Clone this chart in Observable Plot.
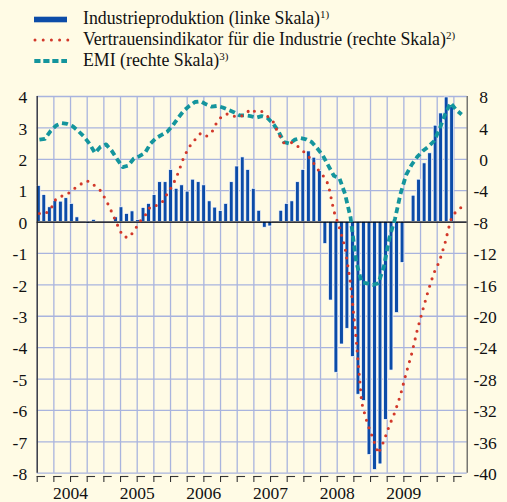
<!DOCTYPE html>
<html><head><meta charset="utf-8">
<script src="https://cdn.jsdelivr.net/npm/d3@7"></script>
<script src="https://cdn.jsdelivr.net/npm/@observablehq/plot@0.6"></script>
<style>
html,body{margin:0;padding:0;background:#fffbe5;}
#chart{width:507px;height:502px;overflow:hidden;background:#fffbe5;}
#chart svg{display:block;}
#chart svg, #chart svg text{font-family:"Liberation Serif","Times New Roman",serif !important;}
</style></head><body><div id="chart"></div>
<script>
// Monthly data, Jan 2004 onwards
const production = [1.15,0.86,0.47,0.68,0.65,0.76,0.58,0.15,0,-0.05,
  0.07,0,0,0,0.15,0.47,0.26,0.34,0.06,0.45,
  0.58,0.86,1.27,1.27,1.66,1.06,1.17,0.97,1.35,1.27,
  1.17,0.66,0.46,0.35,0.58,1.27,1.77,2.06,1.66,1.06,
  0.36,-0.18,-0.14,0,0.36,0.58,0.66,1.27,1.66,2.25,
  2.05,1.63,-0.7,-2.5,-4.8,-3.9,-3.4,-4.3,-5.5,-5.7,
  -7.42,-7.9,-7.72,-6.3,-4.73,-2.9,-1.3,0,0.84,1.35,
  1.87,2.19,3.07,3.46,3.97,3.66];
const confidence = [-6.9,-6.95,-6.4,-5.0,-4.7,-4.5,-3.8,-3.5,-2.8,-2.8,
  -3.4,-4.0,-5.2,-6.7,-8.3,-9.8,-10.0,-9.2,-8.0,-7.2,
  -6.0,-5.9,-5.6,-4.4,-3.3,-1.7,0.3,1.6,2.5,3.3,
  2.9,3.4,4.8,5.6,5.8,5.5,5.4,5.7,6.4,6.0,
  6.1,5.5,4.9,3.3,2.1,2.2,2.0,1.3,0.7,-0.1,
  -1.2,-2.0,-3.2,-6.6,-8.7,-11.2,-15.8,-22.8,-31.0,-33.6,
  -35.5,-37.5,-35.9,-33.9,-32.2,-30.0,-27.3,-24.8,-21.8,-19.2,
  -16.7,-14.5,-13.0,-10.7,-7.8,-6.6,-6.1];
const pmi = [2.5,2.6,3.6,4.3,4.6,4.5,4.2,3.6,2.9,2.0,
  0.8,1.6,1.9,1.1,0.0,-1.0,-0.8,0.1,0.4,0.8,
  2.0,2.7,3.1,3.5,4.3,5.3,6.2,6.8,7.3,7.4,
  7.0,6.7,6.8,6.6,6.3,6.0,5.6,5.6,5.5,5.3,
  5.5,5.3,4.6,3.6,2.2,2.0,2.5,2.7,2.55,2.2,
  1.4,0.5,-0.8,-2.1,-2.4,-4.4,-7.4,-13.0,-15.7,-15.8,
  -16.0,-15.8,-13.7,-10.0,-7.6,-4.4,-2.0,-0.7,0.3,1.05,
  1.6,2.3,3.8,5.7,7.2,6.3,5.7];
const years = ["2004","2005","2006","2007","2008","2009"];
const leftTicks = [4,3,2,1,0,-1,-2,-3,-4,-5,-6,-7,-8];
const rightTicks = [8,4,0,-4,-8,-12,-16,-20,-24,-28,-32,-36,-40];
const legendLabels = [
  ["Industrieproduktion (linke Skala)", "1)"],
  ["Vertrauensindikator für die Industrie (rechte Skala)", "2)"],
  ["EMI (rechte Skala)", "3)"]
];

const C_BAR = "#0c4ca8", C_RED = "#d2382a", C_TEAL = "#14959d", C_GRID = "#a9b4de";
const FONT = "'Liberation Serif','Times New Roman',serif";

// right scale -> left scale
const toLeft = r => (r + 8) / 4;
const xMax = 77.4;
const quarters = d3.range(0, 78, 3);

const prodData = production.map((v, i) => ({i, v}));
const confData = confidence.map((v, i) => ({x: i + 0.4, y: toLeft(v)}));
const pmiData = pmi.map((v, i) => ({x: i + 0.4, y: toLeft(v)}));
const barC = i => 0.29 + 0.992 * i;
const pxU = (392.7 - 16) / 12; // px per left unit

// Legend
const chart = d3.select("#chart");
const leg = chart.append("svg").attr("width", 507).attr("height", 80)
  .attr("font-family", FONT);
const rowBase = [24, 45, 66];
const rowMid = [19.5, 40, 61];
leg.append("rect").attr("x", 34).attr("y", rowMid[0] - 2.8).attr("width", 33).attr("height", 5.6).attr("fill", C_BAR);
leg.append("line").attr("x1", 35).attr("x2", 68).attr("y1", rowMid[1]).attr("y2", rowMid[1])
  .attr("stroke", C_RED).attr("stroke-width", 3).attr("stroke-linecap", "round").attr("stroke-dasharray", "0 8.2");
leg.append("line").attr("x1", 34.3).attr("x2", 67).attr("y1", rowMid[2]).attr("y2", rowMid[2])
  .attr("stroke", C_TEAL).attr("stroke-width", 4).attr("stroke-dasharray", "6.2 2.8");
legendLabels.forEach(([t, s], k) => {
  const tx = leg.append("text").attr("x", 83).attr("y", rowBase[k]).attr("font-size", 17.8).attr("fill", "#111");
  tx.append("tspan").text(t);
  tx.append("tspan").attr("font-size", 11).attr("dy", -6.5).text(s);
});

const plot = Plot.plot({
  width: 507, height: 422,
  marginTop: 16, marginBottom: 29.3, marginLeft: 36.7, marginRight: 40.3,
  x: {domain: [0, xMax], axis: null},
  y: {domain: [-8, 4], axis: null},
  style: {background: "transparent", fontFamily: FONT, fontSize: "17.5px", color: "#111", overflow: "visible"},
  marks: [
    Plot.gridY(leftTicks, {stroke: C_GRID, strokeOpacity: 1, strokeWidth: 1.3}),
    Plot.gridX(quarters, {stroke: C_GRID, strokeOpacity: 1, strokeWidth: 1.3}),
    Plot.rectY(prodData, {
      x1: d => barC(d.i) - 0.34, x2: d => barC(d.i) + 0.34,
      y1: 0, y2: d => d.v, fill: C_BAR, stroke: "white", strokeWidth: 0.7
    }),
    Plot.ruleY([0], {stroke: "#000", strokeWidth: 1.3}),
    Plot.line(pmiData, {x: "x", y: "y", stroke: C_TEAL, strokeWidth: 3.8, strokeDasharray: "6 3.8", strokeLinecap: "butt"}),
    Plot.line(confData, {x: "x", y: "y", stroke: C_RED, strokeWidth: 3.1, strokeDasharray: "0 7.8", strokeLinecap: "round"}),
    Plot.ruleX([0], {stroke: "#222", strokeWidth: 1.2}),
    Plot.ruleX([xMax], {stroke: "#555", strokeWidth: 1.2}),
    Plot.axisY(leftTicks, {anchor: "left", tickSize: 0, tickPadding: 10, label: null, dy: 1.2,
      tickFormat: d => String(d), fontSize: 17.5}),
    Plot.axisY(leftTicks, {anchor: "right", tickSize: 0, tickPadding: 6.3, label: null, textAnchor: "start", dy: 1.2,
      tickFormat: d => { const r = rightTicks[leftTicks.indexOf(d)]; return r >= 0 ? "\u2004" + r : String(r); },
      fontSize: 17.5}),
    // bottom axis: quarter ticks with short segments
    Plot.ruleX(quarters, {x: d => d, y1: -8, y2: -8 - 6 / pxU, dy: 3.3, stroke: "#333", strokeWidth: 1.1}),
    Plot.ruleY(quarters.filter(q => q < 76), {y: -8, x1: d => d, x2: d => d + 1.5, dy: 3.3, stroke: "#333", strokeWidth: 1.1}),
    Plot.text(years, {x: (d, i) => i * 12 + 6, y: -8, dy: 20.5, text: d => d, fontSize: 17.5, fill: "#111"})
  ]
});
chart.node().appendChild(plot);
</script></body></html>
